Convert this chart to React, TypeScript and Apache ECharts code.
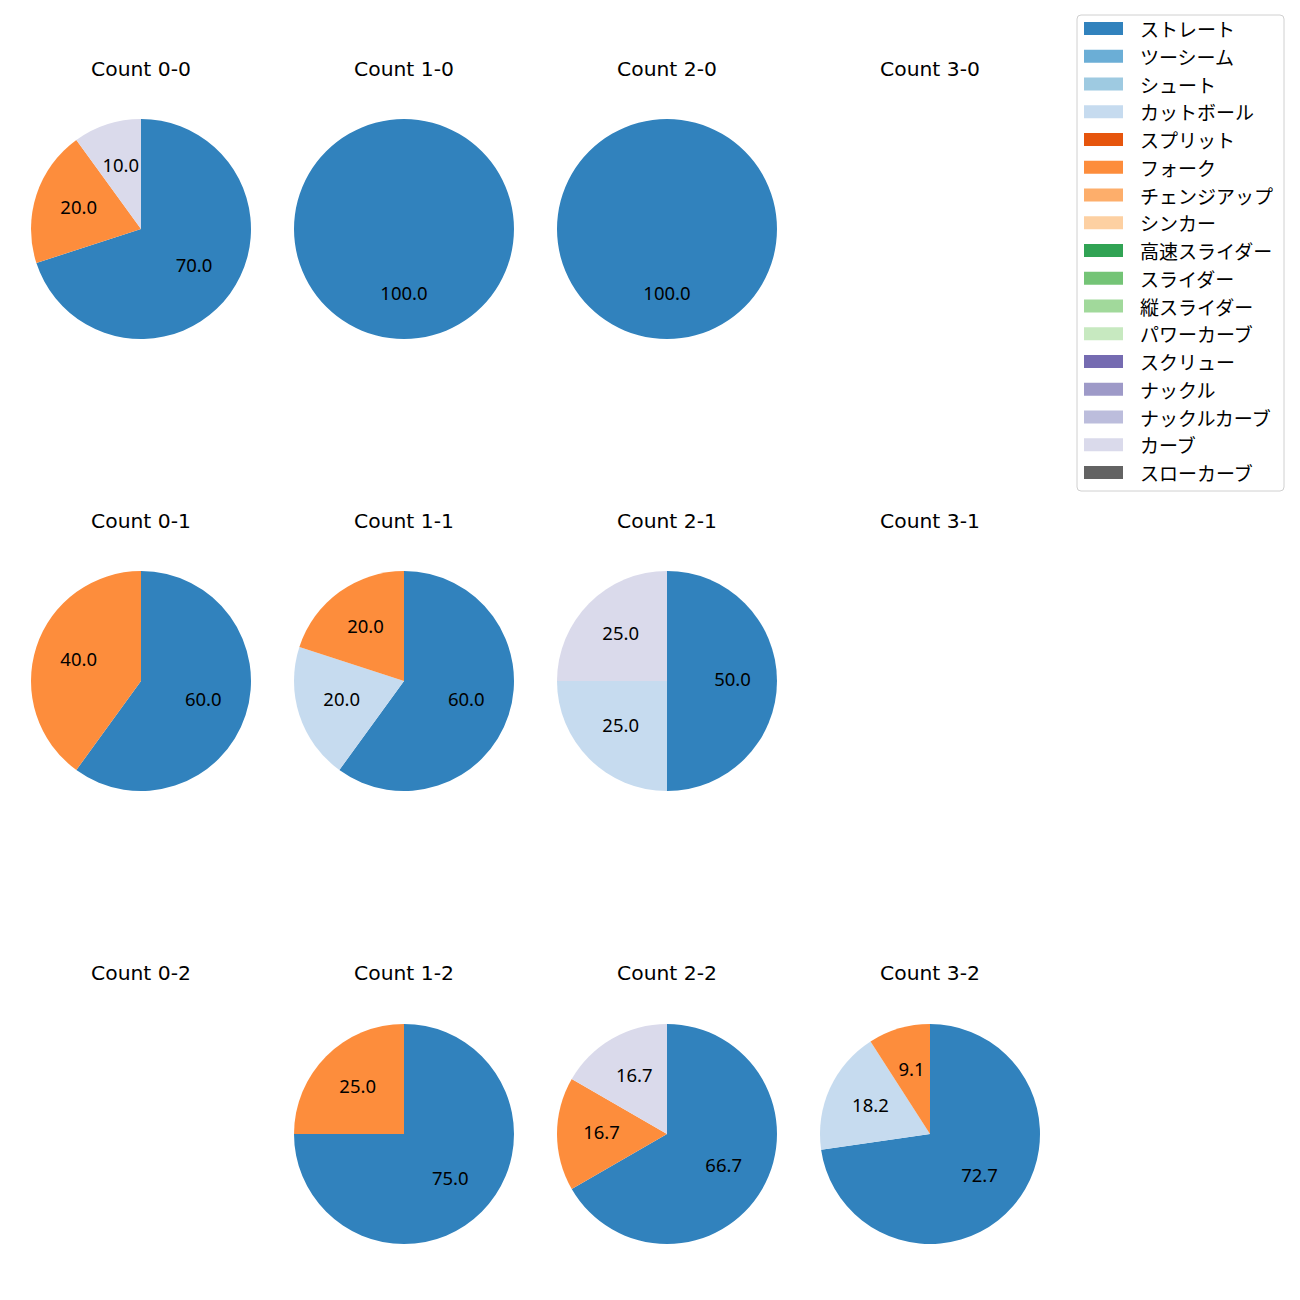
import React, { useEffect, useRef } from "react";
import * as echarts from "echarts";

const PITCH_TYPES = [
  "ストレート", "ツーシーム", "シュート", "カットボール", "スプリット", "フォーク",
  "チェンジアップ", "シンカー", "高速スライダー", "スライダー", "縦スライダー",
  "パワーカーブ", "スクリュー", "ナックル", "ナックルカーブ", "カーブ", "スローカーブ",
];
const PITCH_COLORS = [
  "#3182bd", "#6baed6", "#9ecae1", "#c6dbef", "#e6550d", "#fd8d3c",
  "#fdae6b", "#fdd0a2", "#31a354", "#74c476", "#a1d99b",
  "#c7e9c0", "#756bb1", "#9e9ac8", "#bcbddc", "#dadaeb", "#636363",
];

const COUNT_LABELS = ["0-0", "1-0", "2-0", "3-0", "0-1", "1-1", "2-1", "3-1", "0-2", "1-2", "2-2", "3-2"];

const PITCHES_0_0 = ["ストレート", "フォーク", "カーブ"];
const VALUES_0_0 = [7, 2, 1];
const PITCHES_1_0 = ["ストレート"];
const VALUES_1_0 = [3];
const PITCHES_2_0 = ["ストレート"];
const VALUES_2_0 = [2];
const PITCHES_3_0: string[] = [];
const VALUES_3_0: number[] = [];
const PITCHES_0_1 = ["ストレート", "フォーク"];
const VALUES_0_1 = [3, 2];
const PITCHES_1_1 = ["ストレート", "カットボール", "フォーク"];
const VALUES_1_1 = [3, 1, 1];
const PITCHES_2_1 = ["ストレート", "カットボール", "カーブ"];
const VALUES_2_1 = [2, 1, 1];
const PITCHES_3_1: string[] = [];
const VALUES_3_1: number[] = [];
const PITCHES_0_2: string[] = [];
const VALUES_0_2: number[] = [];
const PITCHES_1_2 = ["ストレート", "フォーク"];
const VALUES_1_2 = [3, 1];
const PITCHES_2_2 = ["ストレート", "フォーク", "カーブ"];
const VALUES_2_2 = [4, 1, 1];
const PITCHES_3_2 = ["ストレート", "カットボール", "フォーク"];
const VALUES_3_2 = [8, 2, 1];

const ALL_PITCHES = [
  PITCHES_0_0, PITCHES_1_0, PITCHES_2_0, PITCHES_3_0,
  PITCHES_0_1, PITCHES_1_1, PITCHES_2_1, PITCHES_3_1,
  PITCHES_0_2, PITCHES_1_2, PITCHES_2_2, PITCHES_3_2,
];
const ALL_VALUES = [
  VALUES_0_0, VALUES_1_0, VALUES_2_0, VALUES_3_0,
  VALUES_0_1, VALUES_1_1, VALUES_2_1, VALUES_3_1,
  VALUES_0_2, VALUES_1_2, VALUES_2_2, VALUES_3_2,
];

const CJK_FONT = "'Noto Sans CJK JP', 'Noto Sans', sans-serif";
const TITLE_FONT = "'DejaVu Sans', 'Noto Sans', sans-serif";
const LABEL_FONT = "'Noto Sans', 'DejaVu Sans', sans-serif";
const COL_X = [141, 404, 667, 930];
const ROW_Y = [229, 681, 1134];
const TITLE_Y = [69, 521, 973];
const RADIUS = 110;

function colorOf(name: string): string {
  return PITCH_COLORS[PITCH_TYPES.indexOf(name)];
}

export default function App() {
  const ref = useRef<HTMLDivElement>(null);
  useEffect(() => {
    document.body.style.margin = "0";
    if (!ref.current) return;
    const chart = echarts.init(ref.current, undefined, { renderer: "svg" });

    const graphics: any[] = [];
    const series: any[] = [];

    // Legend provider (off-screen) so every pitch type appears in the legend
    series.push({
      type: "pie",
      center: [-500, -500],
      radius: [0, 1],
      silent: true,
      label: { show: false },
      labelLine: { show: false },
      data: PITCH_TYPES.map((n, i) => ({ name: n, value: 1, itemStyle: { color: PITCH_COLORS[i] } })),
    });

    COUNT_LABELS.forEach((lab, idx) => {
      const col = idx % 4;
      const row = Math.floor(idx / 4);
      const cx = COL_X[col];
      const cy = ROW_Y[row];
      graphics.push({
        type: "text",
        x: cx,
        y: TITLE_Y[row],
        silent: true,
        style: {
          text: "Count " + lab,
          fontFamily: TITLE_FONT,
          fontSize: 20.3,
          fill: "#000",
          textAlign: "center",
          textVerticalAlign: "middle",
        },
      });
      const pitches = ALL_PITCHES[idx];
      const values = ALL_VALUES[idx];
      if (pitches.length === 0) return;
      const total = values.reduce((a, b) => a + b, 0);
      const data = pitches.map((p, i) => ({ name: p, value: values[i], itemStyle: { color: colorOf(p) } }));
      series.push({
        type: "pie",
        center: [cx, cy],
        radius: [0, RADIUS],
        startAngle: 90,
        clockwise: true,
        silent: true,
        avoidLabelOverlap: false,
        label: { show: false },
        labelLine: { show: false },
        itemStyle: { borderWidth: 0 },
        emphasis: { disabled: true },
        data,
      });
      series.push({
        type: "pie",
        center: [cx, cy],
        radius: [15, RADIUS],
        startAngle: 90,
        clockwise: true,
        silent: true,
        avoidLabelOverlap: false,
        emphasis: { disabled: true },
        labelLine: { show: false },
        label: {
          show: true,
          position: "inside",
          color: "#000",
          fontFamily: LABEL_FONT,
          fontSize: 18.5,
          textBorderWidth: 0,
          offset: [0, -2.5],
          formatter: (p: any) => ((p.value / total) * 100).toFixed(1),
        },
        itemStyle: { color: "rgba(0,0,0,0)", borderWidth: 0 },
        data: pitches.map((p, i) => ({ name: p, value: values[i] })),
      });
    });

    chart.setOption({
      animation: false,
      backgroundColor: "#fff",
      legend: {
        orient: "vertical",
        left: 1077,
        top: 15,
        data: PITCH_TYPES,
        itemWidth: 39,
        itemHeight: 13,
        itemGap: 8.75,
        padding: [4, 11, 9, 7],
        borderColor: "#d0d0d0",
        borderWidth: 1,
        borderRadius: 4,
        backgroundColor: "#fff",
        selectedMode: false,
        icon: "rect",
        textStyle: {
          fontFamily: CJK_FONT,
          fontSize: 19,
          lineHeight: 18,
          color: "#000",
          padding: [0, 0, 0, 12],
        },
      },
      graphic: graphics,
      series,
    });
    return () => chart.dispose();
  }, []);
  return <div ref={ref} style={{ position: "absolute", left: 0, top: 0, width: 1300, height: 1300 }} />;
}
